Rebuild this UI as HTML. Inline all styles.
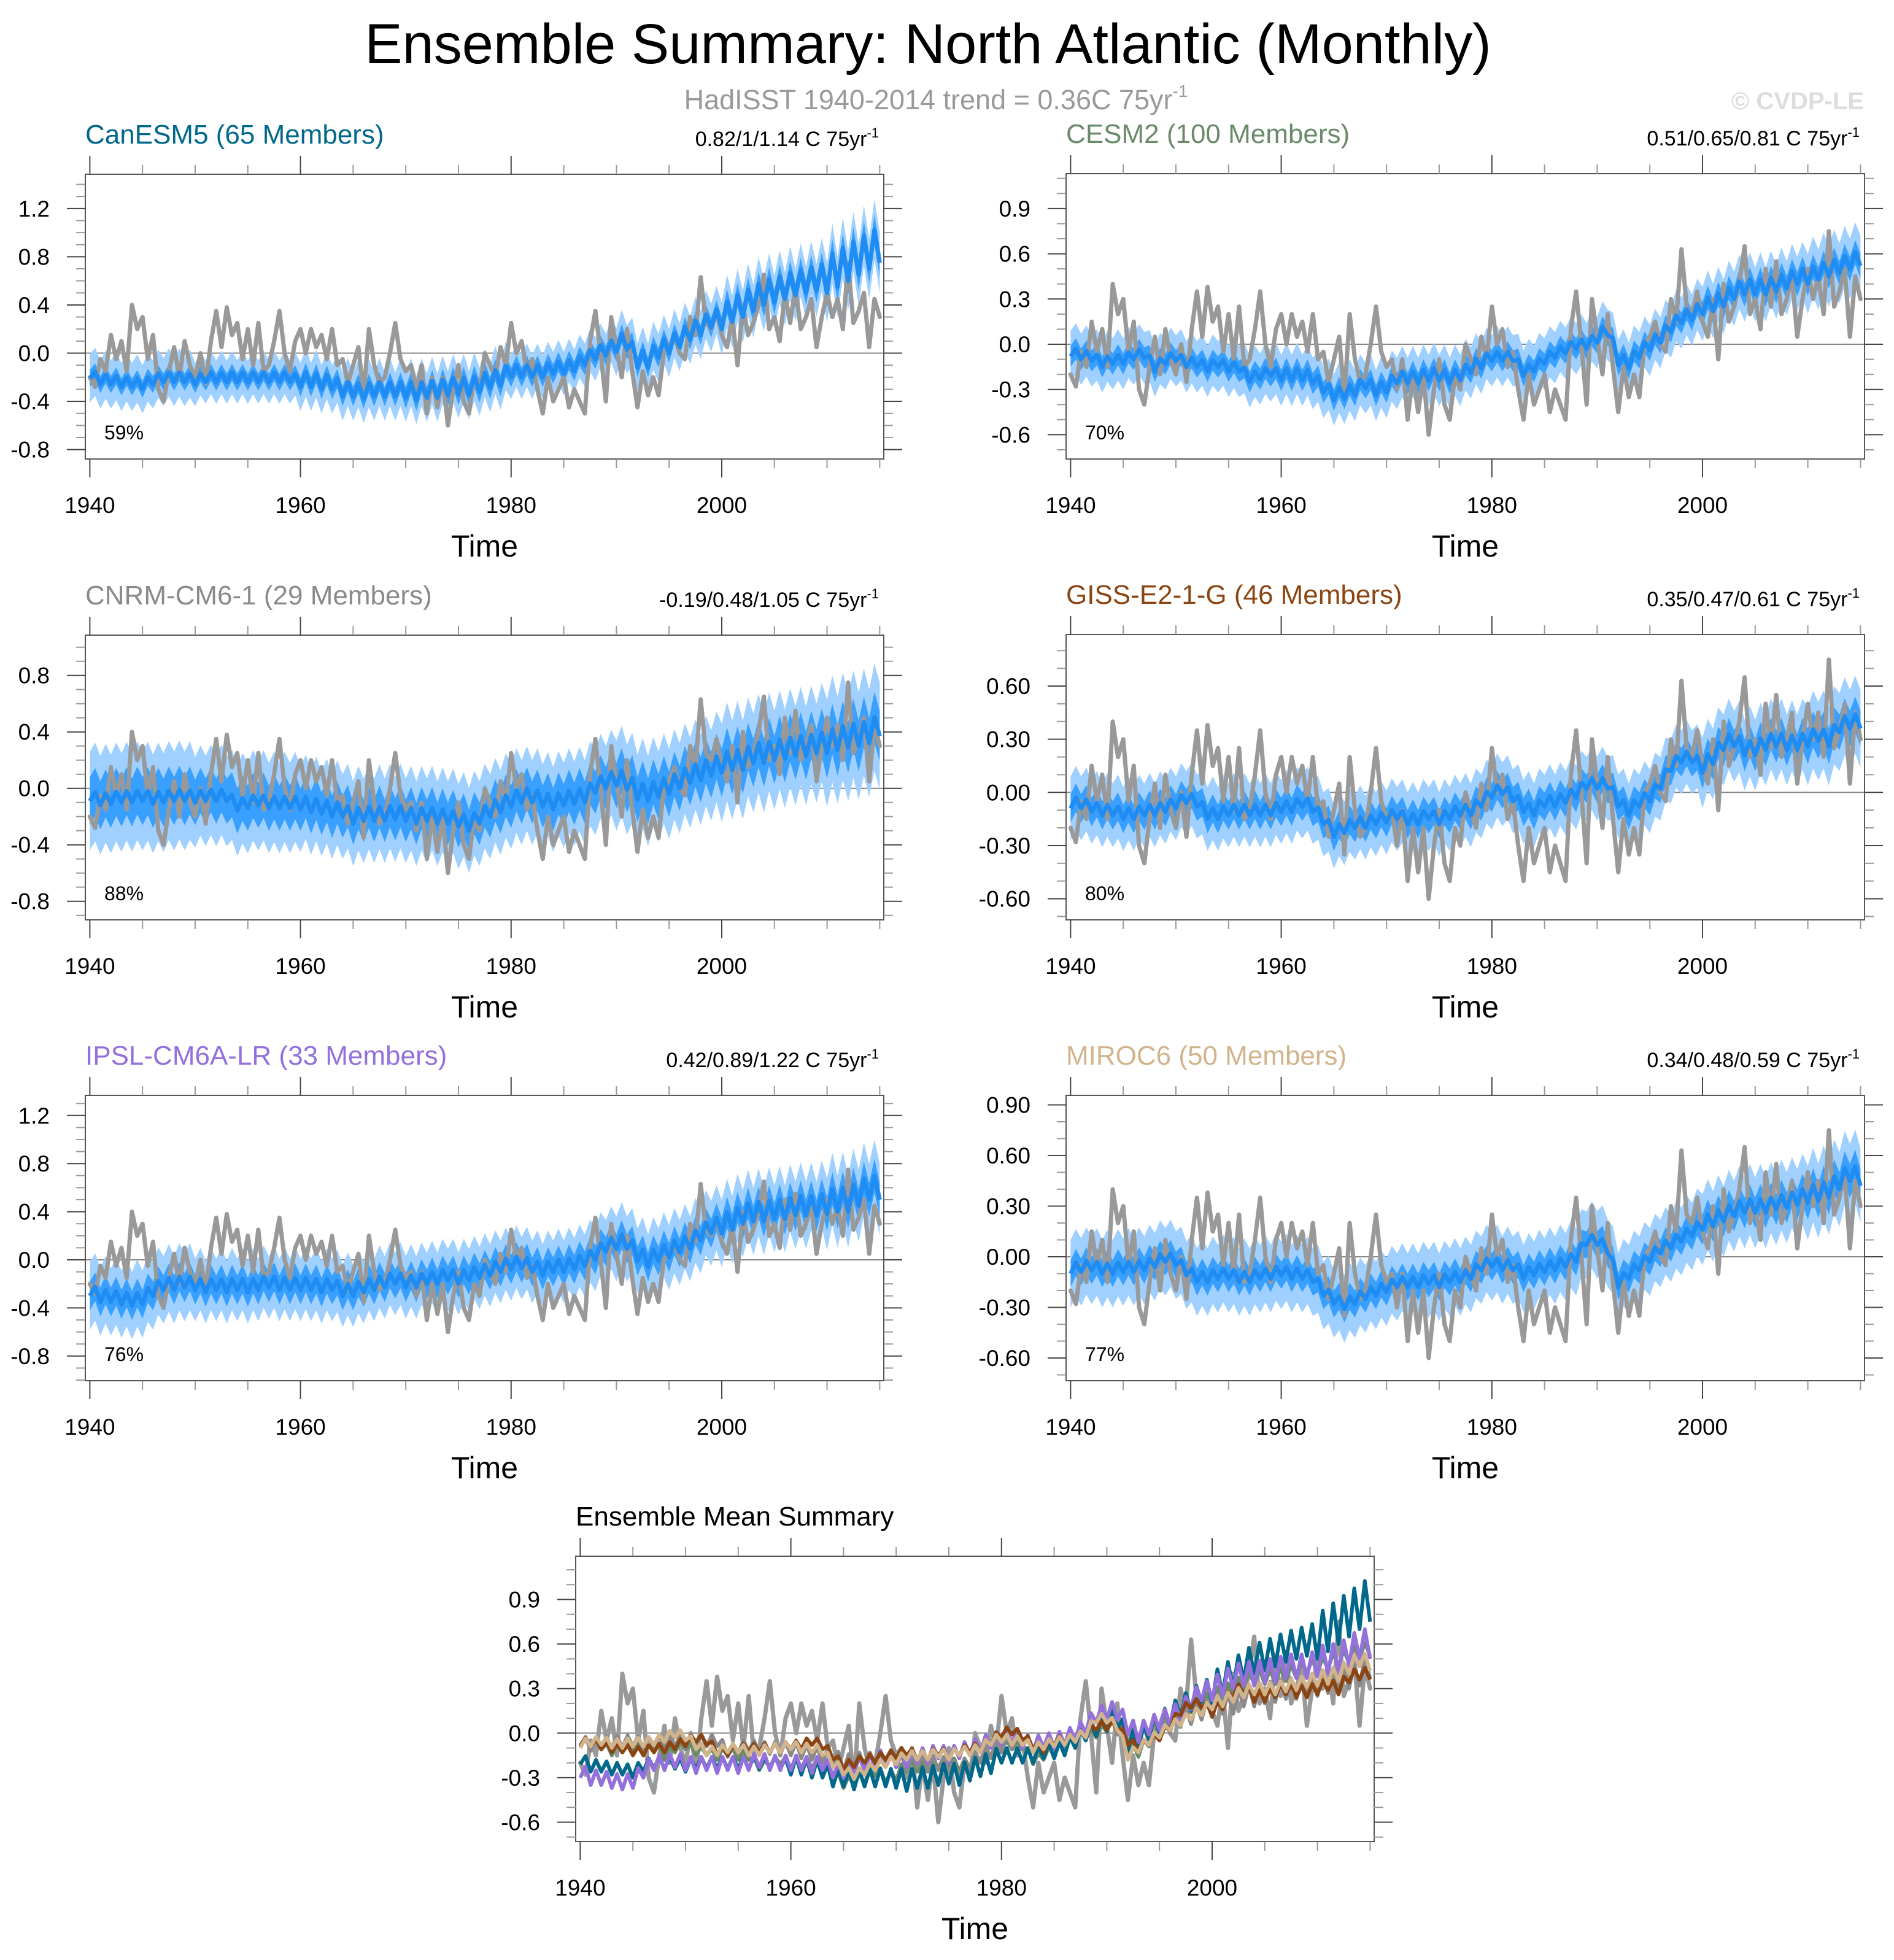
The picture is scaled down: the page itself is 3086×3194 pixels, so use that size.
<!DOCTYPE html>
<html><head><meta charset="utf-8"><style>
html,body{margin:0;padding:0;background:#fff;}
svg{display:block;font-family:"Liberation Sans",Arial,sans-serif;}
</style></head><body>
<svg id="chart" xmlns="http://www.w3.org/2000/svg" width="3086" height="3194" viewBox="0 0 3086 3194">
<rect x="0" y="0" width="3086" height="3194" fill="#fff"/>
<text x="1512" y="103" font-size="92" text-anchor="middle" fill="#000">Ensemble Summary: North Atlantic (Monthly)</text>
<text x="1525" y="178" font-size="45" text-anchor="middle" fill="#999">HadISST 1940-2014 trend = 0.36C 75yr<tspan font-size="28" dy="-20">-1</tspan></text>
<text x="3037" y="178" font-size="40" font-weight="bold" text-anchor="end" fill="#ddd">© CVDP-LE</text>
<g id="plots"></g>
</svg>
<script>
// Observations (HadISST), two samples per year 1940.0 .. 2015.0
const OBS = [-0.2,-0.28,-0.05,-0.15,0.15,-0.05,0.1,-0.15,0.4,0.2,0.3,-0.05,0.15,-0.3,-0.4,-0.15,0.05,-0.2,0.1,-0.1,
-0.2,0.0,-0.25,0.1,0.35,0.05,0.38,0.15,0.25,-0.05,0.2,-0.1,0.25,-0.15,-0.1,0.1,0.35,0.0,-0.15,0.1,
0.2,0.0,0.2,0.05,0.15,-0.05,0.2,-0.1,-0.05,-0.25,-0.1,0.05,-0.35,0.2,-0.1,-0.25,-0.2,0.0,0.25,-0.05,
-0.15,-0.1,-0.3,-0.1,-0.5,-0.2,-0.45,-0.2,-0.6,-0.3,-0.1,-0.4,-0.5,-0.2,-0.3,0.0,-0.1,-0.2,0.05,-0.1,
0.25,0.0,0.1,-0.15,-0.05,-0.3,-0.5,-0.2,-0.4,-0.3,-0.2,-0.45,-0.3,-0.4,-0.5,0.1,0.35,0.0,-0.4,0.3,
0.05,-0.2,0.2,-0.15,-0.45,-0.15,-0.35,-0.2,-0.35,0.0,0.05,0.15,0.0,-0.05,0.3,0.15,0.63,0.25,0.2,0.35,
0.15,0.05,0.3,-0.1,0.4,0.15,0.25,0.4,0.65,0.2,0.3,0.1,0.5,0.25,0.55,0.2,0.3,0.45,0.05,0.3,
0.5,0.3,0.45,0.2,0.75,0.25,0.35,0.5,0.05,0.45,0.3];

// Ensemble means, annual 1940..2015
const CAN_MEAN = [-0.17,-0.22,-0.22,-0.24,-0.24,-0.26,-0.22,-0.2,-0.2,-0.2,-0.22,-0.2,-0.2,-0.2,-0.2,-0.2,-0.2,-0.2,-0.2,-0.2,
-0.22,-0.22,-0.24,-0.24,-0.3,-0.3,-0.32,-0.3,-0.3,-0.3,-0.3,-0.32,-0.3,-0.3,-0.28,-0.27,-0.28,-0.25,-0.22,-0.2,
-0.15,-0.15,-0.15,-0.15,-0.12,-0.12,-0.1,-0.05,0.0,0.03,0.08,0.1,-0.05,-0.05,0.03,0.07,0.12,0.18,0.22,0.28,
0.3,0.36,0.4,0.45,0.5,0.52,0.55,0.58,0.6,0.62,0.65,0.7,0.75,0.8,0.85,0.9];
const CESM_MEAN = [-0.05,-0.07,-0.08,-0.12,-0.1,-0.1,-0.07,-0.06,-0.15,-0.1,-0.08,-0.12,-0.12,-0.15,-0.12,-0.15,-0.15,-0.22,-0.2,-0.18,
-0.2,-0.2,-0.2,-0.22,-0.28,-0.33,-0.32,-0.3,-0.25,-0.3,-0.28,-0.22,-0.22,-0.22,-0.2,-0.2,-0.22,-0.2,-0.15,-0.12,
-0.08,-0.08,-0.08,-0.18,-0.15,-0.1,-0.06,-0.03,0.0,0.0,0.05,0.1,-0.1,-0.12,-0.05,0.0,0.05,0.12,0.18,0.2,
0.25,0.27,0.3,0.35,0.38,0.38,0.38,0.4,0.42,0.45,0.45,0.48,0.5,0.52,0.55,0.57];
const CNRM_MEAN = [-0.05,-0.08,-0.07,-0.06,-0.06,-0.05,-0.07,-0.06,-0.05,-0.05,-0.06,-0.05,-0.05,-0.05,-0.12,-0.1,-0.08,-0.1,-0.1,-0.1,
-0.1,-0.12,-0.13,-0.15,-0.15,-0.2,-0.18,-0.18,-0.18,-0.17,-0.18,-0.2,-0.18,-0.2,-0.2,-0.22,-0.25,-0.2,-0.15,-0.12,
-0.08,-0.05,-0.05,-0.08,-0.1,-0.07,-0.06,-0.05,0.02,0.05,0.08,0.05,-0.02,-0.03,0.0,0.02,0.06,0.1,0.12,0.15,
0.18,0.2,0.2,0.25,0.25,0.27,0.28,0.3,0.3,0.32,0.33,0.35,0.37,0.38,0.4,0.45];
const GISS_MEAN = [-0.06,-0.06,-0.08,-0.1,-0.1,-0.12,-0.12,-0.1,-0.1,-0.08,-0.06,-0.03,-0.05,-0.12,-0.12,-0.1,-0.1,-0.1,-0.1,-0.1,
-0.08,-0.08,-0.05,-0.08,-0.15,-0.22,-0.2,-0.17,-0.17,-0.15,-0.14,-0.12,-0.15,-0.15,-0.12,-0.15,-0.12,-0.1,-0.1,-0.05,
0.0,0.02,-0.02,-0.08,-0.1,-0.05,-0.05,-0.03,0.0,0.05,0.05,0.05,-0.05,-0.1,-0.05,-0.02,0.05,0.15,0.2,0.2,
0.15,0.2,0.28,0.3,0.25,0.25,0.28,0.3,0.28,0.28,0.3,0.33,0.3,0.38,0.4,0.4];
const IPSL_MEAN = [-0.25,-0.3,-0.3,-0.32,-0.33,-0.32,-0.25,-0.2,-0.2,-0.18,-0.2,-0.22,-0.2,-0.22,-0.2,-0.22,-0.2,-0.18,-0.2,-0.2,
-0.2,-0.2,-0.22,-0.2,-0.25,-0.25,-0.22,-0.2,-0.18,-0.15,-0.18,-0.18,-0.15,-0.15,-0.12,-0.15,-0.12,-0.1,-0.08,-0.05,
-0.03,-0.02,-0.05,-0.08,-0.05,-0.05,-0.03,0.0,0.05,0.12,0.15,0.15,0.05,0.0,0.05,0.08,0.12,0.15,0.22,0.28,
0.3,0.33,0.38,0.4,0.4,0.42,0.42,0.45,0.45,0.45,0.48,0.5,0.5,0.55,0.6,0.6];
const MIROC_MEAN = [-0.07,-0.06,-0.05,-0.07,-0.07,-0.06,-0.06,-0.05,-0.03,0.0,-0.02,-0.08,-0.12,-0.12,-0.1,-0.1,-0.12,-0.12,-0.1,-0.1,
-0.08,-0.1,-0.1,-0.12,-0.2,-0.25,-0.28,-0.25,-0.22,-0.2,-0.18,-0.15,-0.15,-0.15,-0.13,-0.15,-0.12,-0.12,-0.1,-0.05,
-0.03,-0.05,-0.05,-0.1,-0.08,-0.06,-0.05,-0.03,0.0,0.1,0.1,0.05,-0.15,-0.1,-0.05,0.0,0.05,0.08,0.12,0.15,
0.2,0.22,0.25,0.28,0.3,0.3,0.3,0.32,0.33,0.35,0.37,0.38,0.4,0.45,0.5,0.47];

// Per-decade (1940s..2010s) seasonal amplitude, inner-band and outer-band half widths
const CAN_AMP = [0.04,0.04,0.06,0.07,0.05,0.07,0.1,0.15];
const CAN_IN = [0.07,0.07,0.08,0.09,0.08,0.08,0.1,0.12];
const CAN_OUT = [0.2,0.18,0.2,0.2,0.18,0.2,0.22,0.25];
const CESM_AMP = [0.03,0.03,0.04,0.04,0.03,0.04,0.05,0.05];
const CESM_IN = [0.07,0.07,0.07,0.07,0.07,0.07,0.08,0.08];
const CESM_OUT = [0.17,0.17,0.17,0.17,0.17,0.17,0.18,0.2];
const CNRM_AMP = [0.04,0.04,0.05,0.05,0.05,0.06,0.07,0.08];
const CNRM_IN = [0.17,0.16,0.15,0.15,0.15,0.16,0.17,0.18];
const CNRM_OUT = [0.35,0.32,0.3,0.3,0.3,0.32,0.35,0.38];
const GISS_AMP = [0.03,0.03,0.03,0.03,0.03,0.03,0.04,0.04];
const GISS_IN = [0.08,0.08,0.08,0.08,0.08,0.08,0.09,0.1];
const GISS_OUT = [0.18,0.18,0.18,0.18,0.18,0.18,0.2,0.22];
const IPSL_AMP = [0.05,0.05,0.05,0.05,0.05,0.06,0.08,0.1];
const IPSL_IN = [0.12,0.12,0.12,0.12,0.12,0.12,0.13,0.14];
const IPSL_OUT = [0.28,0.26,0.26,0.26,0.26,0.27,0.28,0.3];
const MIROC_AMP = [0.03,0.03,0.03,0.03,0.03,0.03,0.04,0.05];
const MIROC_IN = [0.08,0.08,0.08,0.08,0.08,0.08,0.09,0.1];
const MIROC_OUT = [0.2,0.2,0.2,0.2,0.2,0.2,0.21,0.22];

const MODEL_NAMES = ["CanESM5 (65 Members)","CESM2 (100 Members)","CNRM-CM6-1 (29 Members)","GISS-E2-1-G (46 Members)","IPSL-CM6A-LR (33 Members)","MIROC6 (50 Members)"];
const TREND_LABELS = ["0.82/1/1.14 C 75yr","0.51/0.65/0.81 C 75yr","-0.19/0.48/1.05 C 75yr","0.35/0.47/0.61 C 75yr","0.42/0.89/1.22 C 75yr","0.34/0.48/0.59 C 75yr"];
const PCT_LABELS = ["59%","70%","88%","80%","76%","77%"];
const X_TICKS = [1940,1960,1980,2000];

const NS = "http://www.w3.org/2000/svg";
const root = document.getElementById("plots");
function mk(tag, attrs, parent){
  const e = document.createElementNS(NS, tag);
  for (const k in attrs) e.setAttribute(k, attrs[k]);
  (parent||root).appendChild(e);
  return e;
}
const X0 = 1939.57, PXY = 17.16;

function seriesPoints(mean, amp, off){
  const pts = [];
  for (let k = 0; k <= 150; k++){
    const t = k * 0.5;
    const i = Math.min(Math.floor(t), mean.length - 2);
    const f = t - i;
    const m = mean[i] * (1 - f) + mean[i + 1] * f;
    const d = Math.min(7, Math.floor(t / 10));
    const s = (k % 2 === 0) ? -1 : 1;
    pts.push([1940 + t, m + s * amp[d] + (off ? off[d] : 0)]);
  }
  return pts;
}
function offsetNeg(arr){ return arr.map(v => -v); }

function drawPanel(cfg){
  const g = mk("g", {});
  
  
  const L = cfg.left, T = cfg.top, W = 1301, H = cfg.bottom - cfg.top;
  const sx = yr => L + (yr - X0) * PXY;
  const sy = v => cfg.zero - v * cfg.unit;
  const ymax = (cfg.zero - T) / cfg.unit, ymin = -(cfg.bottom - cfg.zero) / cfg.unit;
  const path = pts => pts.map((p, i) => (i ? "L" : "M") + sx(p[0]).toFixed(1) + " " + sy(p[1]).toFixed(1)).join(" ");
  const clipId = "clip-" + cfg.name;
  const cp = mk("clipPath", {id: clipId}, g);
  mk("rect", {x: L, y: T, width: W, height: H}, cp);
  const plot = mk("g", {"clip-path": "url(#" + clipId + ")"}, g);

  // zero line
  const z = mk("line", {x1: L, x2: L + W, y1: sy(0), y2: sy(0), stroke: "#888", "stroke-width": 2}, plot);
  
  

  if (cfg.bands){
    const up2 = seriesPoints(cfg.mean, cfg.amp, cfg.out), lo2 = seriesPoints(cfg.mean, cfg.amp, offsetNeg(cfg.out));
    const b2 = mk("path", {d: path(up2) + " " + path(lo2.slice().reverse()).replace("M", "L") + " Z", fill: "#9fd0ff"}, plot);
    
    
    const up1 = seriesPoints(cfg.mean, cfg.amp, cfg.inn), lo1 = seriesPoints(cfg.mean, cfg.amp, offsetNeg(cfg.inn));
    const b1 = mk("path", {d: path(up1) + " " + path(lo1.slice().reverse()).replace("M", "L") + " Z", fill: "#3aa0ff"}, plot);
    
    
  }
  const obsPts = OBS.map((v, k) => [1940 + k * 0.5, v]);
  const ob = mk("path", {d: path(obsPts), fill: "none", stroke: "#999", "stroke-width": 7, "stroke-linejoin": "round", "stroke-linecap": "round"}, plot);
  
  
  if (cfg.bands){
    const ml = mk("path", {d: path(seriesPoints(cfg.mean, cfg.amp)), fill: "none", stroke: "#1e8cf2", "stroke-width": 7, "stroke-linejoin": "round"}, plot);
    
    
  }
  if (cfg.multi){
    cfg.multi.forEach(s => {
      const l = mk("path", {d: path(seriesPoints(s.mean, s.amp)), fill: "none", stroke: s.color, "stroke-width": 6, "stroke-linejoin": "round"}, plot);
      
      
    });
  }
  // frame
  const fr = mk("rect", {x: L, y: T, width: W, height: H, fill: "none", stroke: "#555", "stroke-width": 2}, g);
  
  

  // y ticks
  const start = Math.ceil(ymin * 10 - 1e-6), end = Math.floor(ymax * 10 + 1e-6);
  const majorStep = Math.round(cfg.step * 10);
  for (let i = start; i <= end; i++){
    const v = i / 10, y = sy(v);
    const major = (((i % majorStep) + majorStep) % majorStep) === 0;
    const len = major ? 30 : 15, col = major ? "#444" : "#999";
    mk("line", {x1: L - len, x2: L, y1: y, y2: y, stroke: col, "stroke-width": 2}, g);
    mk("line", {x1: L + W, x2: L + W + len, y1: y, y2: y, stroke: col, "stroke-width": 2}, g);
    if (major){
      const tl = mk("text", {x: L - 58, y: y + 13, "font-size": 37, "text-anchor": "end", fill: "#000"}, g);
      
      
      tl.textContent = v.toFixed(cfg.dec);
    }
  }
  // x ticks
  for (let yr = 1940; yr <= 2015; yr += 5){
    const x = sx(yr), major = (yr % 20 === 0), len = major ? 30 : 15, col = major ? "#444" : "#999";
    mk("line", {x1: x, x2: x, y1: T - len, y2: T, stroke: col, "stroke-width": 2}, g);
    mk("line", {x1: x, x2: x, y1: T + H, y2: T + H + len, stroke: col, "stroke-width": 2}, g);
  }
  X_TICKS.forEach(yr => {
    const t = mk("text", {x: sx(yr), y: T + H + 88, "font-size": 37, "text-anchor": "middle", fill: "#000"}, g);
    
    
    t.textContent = yr;
  });
  const xt = mk("text", {x: L + W / 2, y: T + H + 159, "font-size": 50, "text-anchor": "middle", fill: "#000"}, g);
  
  
  xt.textContent = "Time";

  const tt = mk("text", {x: L, y: T - 50, "font-size": 44, fill: cfg.color}, g);
  
  
  tt.textContent = cfg.title;
  if (cfg.trend){
    const tr = mk("text", {x: L + W - 8, y: T - 46, "font-size": 34, "text-anchor": "end", fill: "#000"}, g);
    
    
    tr.textContent = cfg.trend;
    const sup = mk("tspan", {"font-size": 22, dy: -14}, tr);
    sup.textContent = "-1";
  }
  if (cfg.pct){
    const pc = mk("text", {x: L + 31, y: T + H - 32, "font-size": 32, fill: "#000"}, g);
    
    
    pc.textContent = cfg.pct;
  }
}

const COLORS = ["#00688b","#698b69","#8b8989","#8b4513","#9370db","#d2b48c"];
const MEANS = [CAN_MEAN, CESM_MEAN, CNRM_MEAN, GISS_MEAN, IPSL_MEAN, MIROC_MEAN];
const AMPS = [CAN_AMP, CESM_AMP, CNRM_AMP, GISS_AMP, IPSL_AMP, MIROC_AMP];
const INS = [CAN_IN, CESM_IN, CNRM_IN, GISS_IN, IPSL_IN, MIROC_IN];
const OUTS = [CAN_OUT, CESM_OUT, CNRM_OUT, GISS_OUT, IPSL_OUT, MIROC_OUT];
const KEYS = ["canesm5","cesm2","cnrm-cm6-1","giss-e2-1-g","ipsl-cm6a-lr","miroc6"];
const LAYOUT = [
  {left:139, top:284, bottom:748, zero:575.5, unit:196.4, step:0.4, dec:1},
  {left:1737, top:283, bottom:748, zero:561, unit:245.7, step:0.3, dec:1},
  {left:139, top:1035, bottom:1499, zero:1284.7, unit:230, step:0.4, dec:1},
  {left:1737, top:1034, bottom:1499, zero:1291.3, unit:288.8, step:0.3, dec:2},
  {left:139, top:1785, bottom:2250, zero:2053, unit:196, step:0.4, dec:1},
  {left:1737, top:1785, bottom:2250, zero:2048, unit:275, step:0.3, dec:2}
];
for (let m = 0; m < 6; m++){
  const c = Object.assign({}, LAYOUT[m]);
  c.name = KEYS[m] + "-panel"; c.title = MODEL_NAMES[m]; c.trend = TREND_LABELS[m]; c.pct = PCT_LABELS[m];
  c.color = COLORS[m]; c.bands = true; c.mean = MEANS[m]; c.amp = AMPS[m]; c.inn = INS[m]; c.out = OUTS[m];
  drawPanel(c);
}
const ORDER = [1, 2, 0, 4, 3, 5];
drawPanel({left:938, top:2536, bottom:3001, zero:2824.3, unit:242, step:0.3, dec:1,
  name:"ensemble-mean-summary-panel", title:"Ensemble Mean Summary", color:"#000",
  multi: ORDER.map(i => ({key: KEYS[i], mean: MEANS[i], amp: AMPS[i], color: COLORS[i]}))});
</script>
</body></html>
